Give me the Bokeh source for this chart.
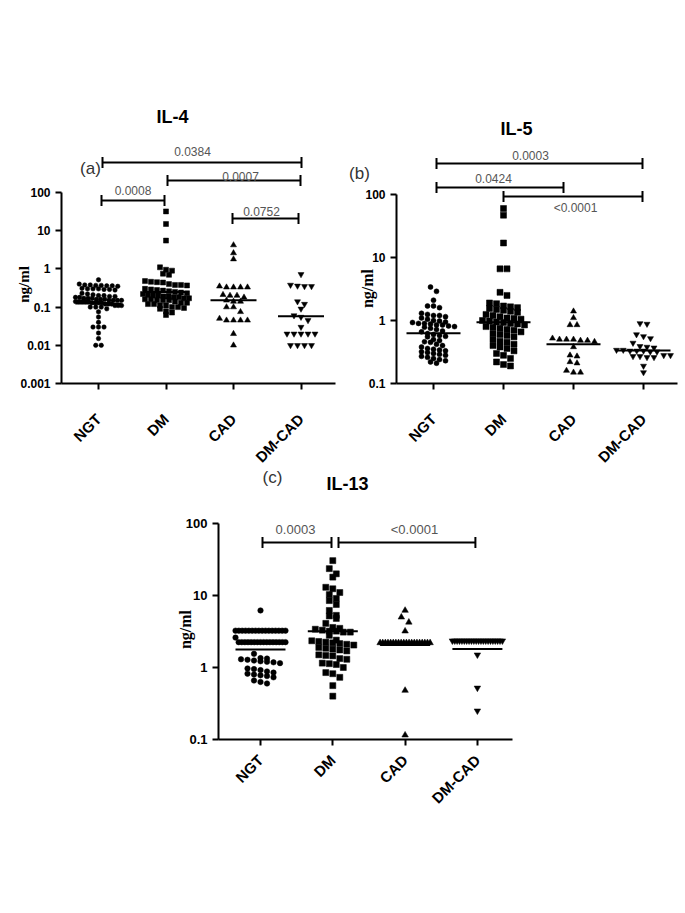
import math
import numpy as np
from bokeh.plotting import figure
from bokeh.layouts import column, row
from bokeh.models import FixedTicker, Range1d
from bokeh.embed import file_html
from bokeh.resources import INLINE
from bokeh.core.properties import value

# ---------------- data ----------------
GROUPS = ["NGT", "DM", "CAD", "DM-CAD"]

IL4_TICKS = [0.001, 0.01, 0.1, 1, 10, 100]
IL4_TICK_LABELS = ["0.001", "0.01", "0.1", "1", "10", "100"]
IL4_NGT = [0.52, 0.4, 0.38, 0.38, 0.37, 0.37, 0.36, 0.36, 0.35,
           0.31, 0.3, 0.3, 0.3, 0.29, 0.29, 0.28,
           0.23, 0.22, 0.21, 0.2, 0.2, 0.19, 0.19, 0.18, 0.18, 0.17, 0.17, 0.17,
           0.16, 0.16, 0.16, 0.15, 0.15, 0.15, 0.15, 0.14, 0.14, 0.14, 0.14, 0.14,
           0.13, 0.13, 0.13, 0.13, 0.12, 0.12, 0.12, 0.11, 0.11, 0.11, 0.1, 0.1, 0.1, 0.09,
           0.075, 0.055, 0.04, 0.03, 0.03, 0.03, 0.021, 0.015, 0.01, 0.01]
IL4_DM = [32, 15, 5.5, 1.1, 0.95, 0.9, 0.75, 0.7, 0.48, 0.46, 0.45, 0.44,
          0.4, 0.38, 0.38, 0.37, 0.3, 0.29, 0.28, 0.27, 0.26, 0.25, 0.24, 0.23, 0.22, 0.21,
          0.2, 0.2, 0.19, 0.19, 0.18, 0.18, 0.17, 0.17, 0.16, 0.16, 0.15, 0.15, 0.15, 0.14,
          0.13, 0.13, 0.12, 0.12, 0.11, 0.11, 0.1, 0.1, 0.095, 0.09, 0.078, 0.072, 0.062]
IL4_CAD = [4.2, 2.6, 1.8, 0.35, 0.33, 0.33, 0.33, 0.33, 0.21, 0.2, 0.2, 0.18,
           0.15, 0.14, 0.14, 0.1, 0.1, 0.075, 0.05, 0.045, 0.045, 0.045, 0.045, 0.02, 0.01]
IL4_DMCAD = [0.72, 0.38, 0.36, 0.35, 0.35, 0.14, 0.12, 0.09, 0.06, 0.055, 0.045, 0.03,
             0.02, 0.02, 0.02, 0.02, 0.02, 0.01, 0.01, 0.01, 0.01]
IL4_MEDIANS = [0.125, 0.25, 0.15, 0.058]
IL4_PAIRS = [("NGT", "DM-CAD"), ("DM", "DM-CAD"), ("NGT", "DM"), ("CAD", "DM-CAD")]
IL4_PVALUES = ["0.0384", "0.0007", "0.0008", "0.0752"]

IL5_TICKS = [0.1, 1, 10, 100]
IL5_TICK_LABELS = ["0.1", "1", "10", "100"]
IL5_NGT = [3.4, 2.9, 2.1, 1.7, 1.6, 1.7, 1.3, 1.25, 1.2, 1.2, 1.15, 1.1, 1.05,
           1.0, 0.98, 0.95, 0.93, 0.9, 0.9, 0.88, 0.85, 0.85, 0.82, 0.8, 0.78, 0.75, 0.72,
           0.68, 0.66, 0.62, 0.6, 0.58, 0.56, 0.55, 0.5, 0.48, 0.46, 0.45, 0.42, 0.4,
           0.38, 0.36, 0.35, 0.34, 0.33, 0.32, 0.31, 0.3, 0.29, 0.28, 0.27, 0.26, 0.25,
           0.24, 0.23, 0.22, 0.21]
IL5_DM = [60, 47, 17, 6.6, 6.6, 2.8, 2.5, 1.9, 1.85, 1.7, 1.65, 1.6, 1.55, 1.5, 1.45, 1.4, 1.35,
          1.25, 1.2, 1.15, 1.1, 1.08, 1.05, 1.0, 0.98, 0.95, 0.93, 0.9, 0.88, 0.85,
          0.8, 0.78, 0.75, 0.72, 0.7, 0.66, 0.62, 0.6, 0.58, 0.55,
          0.5, 0.47, 0.45, 0.42, 0.4, 0.38, 0.36, 0.33, 0.3, 0.28, 0.25, 0.22, 0.2, 0.19]
IL5_CAD = [1.4, 1.1, 0.85, 0.85, 0.52, 0.5, 0.5, 0.5, 0.48, 0.48, 0.46, 0.38,
           0.28, 0.27, 0.22, 0.21, 0.16, 0.15, 0.15]
IL5_DMCAD = [0.9, 0.88, 0.6, 0.56, 0.52, 0.44, 0.39, 0.38, 0.37, 0.34, 0.34, 0.33, 0.33,
             0.33, 0.32, 0.32, 0.28, 0.28, 0.27, 0.27, 0.26, 0.26, 0.19, 0.15]
IL5_MEDIANS = [0.63, 0.94, 0.42, 0.335]
IL5_PAIRS = [("NGT", "DM-CAD"), ("NGT", "CAD"), ("DM", "DM-CAD")]
IL5_PVALUES = ["0.0003", "0.0424", "<0.0001"]

IL13_TICKS = [0.1, 1, 10, 100]
IL13_TICK_LABELS = ["0.1", "1", "10", "100"]
IL13_NGT = ([6.2] + [3.25] * 16 + [2.6] + [2.25] * 16 +
            [1.55, 1.35, 1.33, 1.3, 1.28, 1.25, 1.22, 1.2, 1.18, 1.15,
             0.97, 0.95, 0.92, 0.88, 0.85, 0.82, 0.8, 0.78, 0.76, 0.73, 0.66, 0.63, 0.6])
IL13_DM = [30.5, 23.6, 20, 18, 13, 12.4, 11, 10.3, 9.1, 8.5, 7.5, 6.2, 5.3, 5.2, 4.8, 4.1,
           3.6, 3.5, 3.4, 3.3, 3.2, 3.2, 3.1, 3.1, 2.8,
           2.4, 2.35, 2.3, 2.25, 2.2, 2.15, 2.1, 2.05, 1.9, 1.85, 1.8, 1.75, 1.7,
           1.5, 1.47, 1.45, 1.33, 1.3, 1.15, 1.13, 1.1, 1.0, 0.85, 0.82, 0.73, 0.56, 0.4]
IL13_CAD = [6.2, 5.0, 4.25, 3.2] + [2.2] * 20 + [0.48, 0.115]
IL13_DMCAD = [2.35] * 22 + [1.5, 0.52, 0.25]
IL13_MEDIANS = [1.78, 3.2, 2.05, 1.8]
IL13_PAIRS = [("NGT", "DM"), ("DM", "DM-CAD")]
IL13_PVALUES = ["0.0003", "<0.0001"]

Y_LABEL = "ng/ml"

# ---------------- layout / styling ----------------
FONT = "Liberation Sans"
MARKERS = ["circle", "square", "triangle", "inverted_triangle"]

PANELS = [
    dict(name="IL-4", letter="(a)", groups=[IL4_NGT, IL4_DM, IL4_CAD, IL4_DMCAD],
         medians=IL4_MEDIANS, pairs=IL4_PAIRS, pvals=IL4_PVALUES,
         ticks=IL4_TICKS, tick_labels=IL4_TICK_LABELS, ymin=0.001,
         ox=0, oy=0, W=345, H=466, fx0=61, fx1=335, fy1=383, c1=98, cs=67.5, ppd=38.2,
         sizes=[4.5, 5, 6, 6], half=23, fs=12, cfs=15, cstand=27,
         # (inset0 px, inset1 px, level, label dx px, label up px)
         brackets=[(4, 0.5, 610, -9.5, 11), (1.5, -0.5, 206, 6.5, 4),
                   (3, -1.5, 62, 0, 9.5), (-1, -2.5, 21, -4, 7)],
         title_xy=(172, 116), letter_xy=(90, 168), ylab_xy=(23, 284), ylab_fs=15),
    dict(name="IL-5", letter="(b)", groups=[IL5_NGT, IL5_DM, IL5_CAD, IL5_DMCAD],
         medians=IL5_MEDIANS, pairs=IL5_PAIRS, pvals=IL5_PVALUES,
         ticks=IL5_TICKS, tick_labels=IL5_TICK_LABELS, ymin=0.1,
         ox=345, oy=0, W=340, H=466, fx0=396, fx1=677, fy1=383, c1=433, cs=70, ppd=63,
         sizes=[5, 6, 6, 6], half=27, fs=12, cfs=15, cstand=27,
         brackets=[(3, -1, 310, -9, 8), (3, -10, 129, -6.5, 9.5), (0, -1, 93, 2.5, -11.5)],
         title_xy=(516, 128), letter_xy=(359, 173), ylab_xy=(367, 288), ylab_fs=16),
    dict(name="IL-13", letter="(c)", groups=[IL13_NGT, IL13_DM, IL13_CAD, IL13_DMCAD],
         medians=IL13_MEDIANS, pairs=IL13_PAIRS, pvals=IL13_PVALUES,
         ticks=IL13_TICKS, tick_labels=IL13_TICK_LABELS, ymin=0.1,
         ox=0, oy=466, W=685, H=370, fx0=218, fx1=512, fy1=739, c1=260, cs=72.3, ppd=72,
         sizes=[5.5, 6, 6.5, 6.5], half=25, fs=13, cfs=15, cstand=12,
         brackets=[(2, -1.3, 54.5, -1.5, 13), (5.7, -2, 54.5, 7.5, 13)],
         title_xy=(347, 483), letter_xy=(272, 477), ylab_xy=(185, 629), ylab_fs=16),
]


def swarm(vals, ppd, ppc, size, half_px):
    v = np.asarray(vals, float)
    py = np.log10(v) * ppd
    order = np.argsort(-py, kind="stable")
    offs = np.zeros(len(v))
    rows, cur, start = [], [], None
    for i in order:
        if start is None or start - py[i] > size * 0.9:
            if cur:
                rows.append(cur)
            cur, start = [i], py[i]
        else:
            cur.append(i)
    if cur:
        rows.append(cur)
    for r in rows:
        n = len(r)
        step = size + 1.0
        if n > 1:
            step = min(step, 2 * half_px / (n - 1))
        for k, i in enumerate(r):
            offs[i] = (k - (n - 1) / 2) * step / ppc
    return offs


def make_panel(g):
    def X(px):
        return 1 + (px - g["c1"]) / g["cs"]

    def Y(py):
        return g["ymin"] * 10 ** ((g["fy1"] - py) / g["ppd"])

    p = figure(width=g["W"], height=g["H"], title=None,
               x_range=Range1d(X(g["ox"]), X(g["ox"] + g["W"])),
               y_range=Range1d(Y(g["oy"] + g["H"]), Y(g["oy"])),
               y_axis_type="log", output_backend="svg", toolbar_location=None,
               min_border_left=0, min_border_right=0, min_border_top=0, min_border_bottom=0)
    p.grid.visible = False
    p.outline_line_color = None
    p.background_fill_color = "white"
    p.border_fill_color = "white"

    for ax in (p.xaxis[0], p.yaxis[0]):
        ax.axis_line_width = 2
        ax.axis_line_color = "black"
        ax.major_tick_line_width = 2
        ax.major_tick_line_color = "black"
        ax.major_tick_in = 0
        ax.major_tick_out = 6
        ax.minor_tick_line_color = None
        ax.major_label_text_font = FONT
        ax.major_label_text_font_style = "bold"
        ax.major_label_text_font_size = f"{g['fs']}px"
        ax.major_label_text_color = "black"

    ya = p.yaxis[0]
    ya.ticker = FixedTicker(ticks=g["ticks"], minor_ticks=[])
    ya.major_label_overrides = {t: lab for t, lab in zip(g["ticks"], g["tick_labels"])}
    ya.bounds = (g["ymin"], 100)
    ya.fixed_location = X(g["fx0"])

    xa = p.xaxis[0]
    xa.ticker = FixedTicker(ticks=[1, 2, 3, 4], minor_ticks=[])
    xa.major_label_overrides = {i + 1: name for i, name in enumerate(GROUPS)}
    xa.major_label_orientation = math.pi / 4
    xa.major_label_text_font_size = f"{g['cfs']}px"
    xa.major_label_standoff = g["cstand"]
    xa.bounds = (X(g["fx0"]), X(g["fx1"]))
    xa.fixed_location = g["ymin"]

    # points
    for i, vals in enumerate(g["groups"]):
        offs = swarm(vals, g["ppd"], g["cs"], g["sizes"][i], g["half"])
        xs = [i + 1 + o for o in offs]
        p.scatter(xs, vals, marker=MARKERS[i], size=g["sizes"][i],
                  fill_color="black", line_color="black", line_width=0.5)

    # medians
    hw = g["half"] / g["cs"]
    cats = [i + 1 for i in range(len(GROUPS))]
    p.segment(x0=[c - hw for c in cats], x1=[c + hw for c in cats],
              y0=g["medians"], y1=g["medians"], line_color="black", line_width=2)

    # significance brackets
    bx0, bx1, by, lx, ly = [], [], [], [], []
    for (a, b), (i0, i1, lev, dx, up) in zip(g["pairs"], g["brackets"]):
        x0 = GROUPS.index(a) + 1 + i0 / g["cs"]
        x1 = GROUPS.index(b) + 1 + i1 / g["cs"]
        bx0.append(x0)
        bx1.append(x1)
        by.append(lev)
        lx.append((x0 + x1) / 2 + dx / g["cs"])
        ly.append(lev * 10 ** (up / g["ppd"]))
    p.segment(x0=bx0, x1=bx1, y0=by, y1=by, line_color="black", line_width=2)
    p.scatter(bx0 + bx1, by + by, marker="dash", angle=math.pi / 2, size=11,
              line_color="black", line_width=2)
    p.text(lx, ly, text=g["pvals"], text_font=value(FONT), text_font_size=f"{g['fs']}px",
           text_color="#555555", text_align="center", text_baseline="middle")

    # titles and labels
    tx, ty = g["title_xy"]
    p.text([X(tx)], [Y(ty)], text=[g["name"]], text_font=value(FONT), text_font_size="18px",
           text_font_style="bold", text_color="black", text_align="center", text_baseline="middle")
    lx_, ly_ = g["letter_xy"]
    p.text([X(lx_)], [Y(ly_)], text=[g["letter"]], text_font=value(FONT), text_font_size="17px",
           text_color="#333333", text_align="center", text_baseline="middle")
    yx, yy = g["ylab_xy"]
    p.text([X(yx)], [Y(yy)], text=[Y_LABEL], angle=math.pi / 2,
           text_font=value("Liberation Serif"), text_font_style="bold",
           text_font_size=f"{g['ylab_fs']}px", text_color="black",
           text_align="center", text_baseline="middle")
    return p


pa, pb, pc = [make_panel(g) for g in PANELS]
layout = column(row(pa, pb, spacing=0), pc, spacing=0)

open("out.html", "w").write(file_html(layout, INLINE))
